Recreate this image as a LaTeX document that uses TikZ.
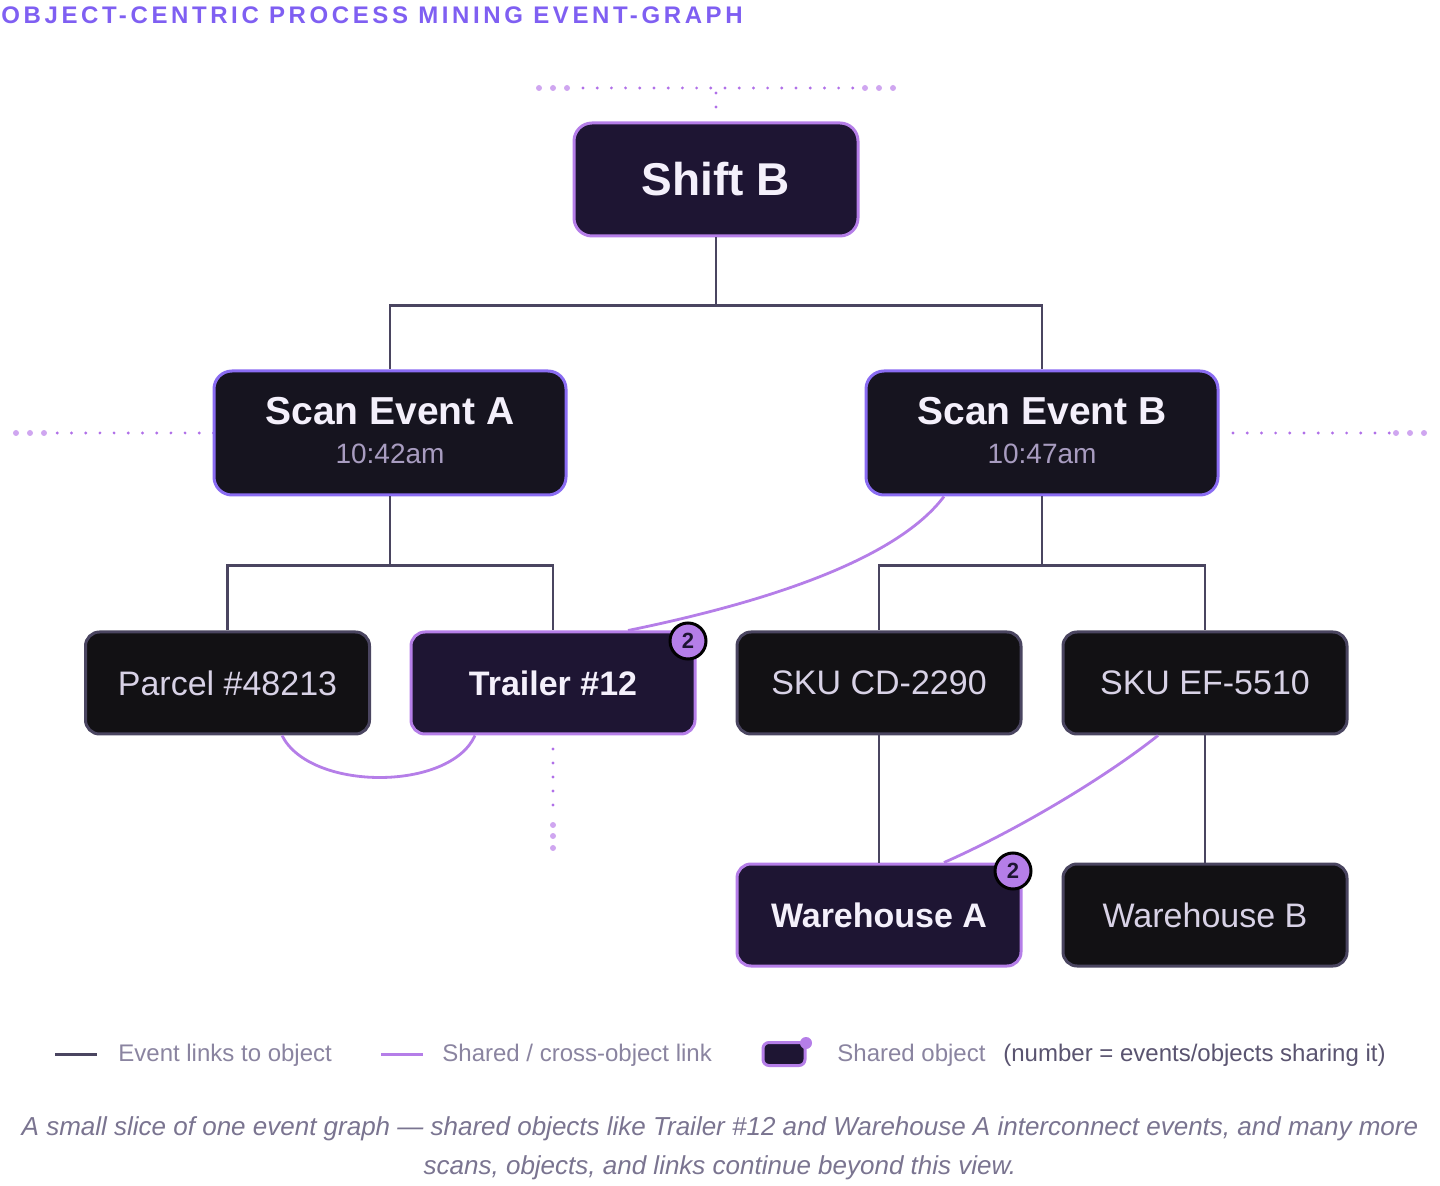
\documentclass[tikz,border=0pt]{standalone}
\usepackage{fontspec}
\setmainfont{Liberation Sans}
\newfontfamily\titlefam[LetterSpace=15]{Liberation Sans}
\usetikzlibrary{calc}
\definecolor{sharedfill}{HTML}{1E1533}
\definecolor{sharedborder}{HTML}{B57EE8}
\definecolor{eventfill}{HTML}{16141F}
\definecolor{eventborder}{HTML}{8A6CF2}
\definecolor{plainfill}{HTML}{121114}
\definecolor{plainborder}{HTML}{4A4560}
\definecolor{linkcol}{HTML}{4A4560}
\definecolor{textwhite}{HTML}{F4F0FB}
\definecolor{plaintext}{HTML}{D8D2E6}
\definecolor{timetext}{HTML}{A89CC0}
\definecolor{titlecol}{HTML}{7F5FF2}
\definecolor{legendtext}{HTML}{8A84A0}
\definecolor{legenddark}{HTML}{5A5470}
\definecolor{captioncol}{HTML}{7A7490}
\definecolor{dotsmall}{HTML}{B070E8}
\definecolor{dotbig}{HTML}{CFA6F0}
\definecolor{badgetext}{HTML}{1E1533}
\begin{document}
\begin{tikzpicture}[x=0.5pt,y=-0.5pt,
  box/.style={rounded corners=7pt, minimum width=142pt, minimum height=51pt, inner sep=0pt, line width=1.5pt},
  sharedbox/.style={box, fill=sharedfill, draw=sharedborder, text=textwhite, font=\fontsize{17}{20}\selectfont\bfseries},
  plainbox/.style={box, fill=plainfill, draw=plainborder, text=plaintext, font=\fontsize{17}{20}\selectfont},
  eventbox/.style={box, rounded corners=9pt, minimum width=176pt, minimum height=62pt, fill=eventfill, draw=eventborder},
  evtitle/.style={anchor=base, inner sep=0pt, text=textwhite, font=\fontsize{19.5}{23}\selectfont\bfseries},
  evtime/.style={anchor=base, inner sep=0pt, text=timetext, font=\fontsize{14}{17}\selectfont},
  link/.style={draw=linkcol, line width=1.2pt},
  sharedlink/.style={draw=sharedborder, line width=1.4pt},
  badge/.style={circle, fill=sharedborder, draw=black, line width=1.5pt, minimum size=18pt, inner sep=0pt, text=badgetext, font=\fontsize{11}{13}\selectfont\bfseries},
  legendlabel/.style={anchor=west, inner sep=0pt, text=legendtext, font=\fontsize{12}{14}\selectfont},
]
\useasboundingbox (0,0) rectangle (1440,1186);

% title
\node[anchor=base west, inner sep=0pt, text=titlecol, font=\titlefam\bfseries\fontsize{12}{14}\selectfont] (title) at (1,24) {OBJECT-CENTRIC PROCESS MINING EVENT-GRAPH};

% dotted continuation hints
\foreach \i in {0,...,19} \fill[dotsmall] ({583+\i*14.2},88) circle (0.8pt);
\foreach \x in {539,553,567,865,879,893} \fill[dotbig] (\x,88) circle (1.5pt);
\foreach \y in {93,107} \fill[dotsmall] (716,\y) circle (0.8pt);
\foreach \i in {0,...,11} \fill[dotsmall] ({57.3+\i*14.2},433) circle (0.8pt);
\foreach \x in {16,30,44} \fill[dotbig] (\x,433) circle (1.5pt);
\foreach \i in {0,...,11} \fill[dotsmall] ({1233+\i*14.2},433) circle (0.8pt);
\foreach \x in {1396,1410,1424} \fill[dotbig] (\x,433) circle (1.5pt);
\foreach \y in {749,763,777,791,805} \fill[dotsmall] (553,\y) circle (0.8pt);
\foreach \y in {825,836,848} \fill[dotbig] (553,\y) circle (1.5pt);

% nodes
\node[box, rounded corners=9pt, minimum width=142pt, minimum height=56.5pt, fill=sharedfill, draw=sharedborder, text=textwhite, font=\fontsize{23}{27}\selectfont\bfseries] (shift) at (716,179.5) {Shift B};

\node[eventbox] (sa) at (390,433) {};
\node[evtitle] (saT) at (390,425) {Scan Event A};
\node[evtime] (saTm) at (390,463.5) {10:42am};
\node[eventbox] (sb) at (1042,433) {};
\node[evtitle] (sbT) at (1042,425) {Scan Event B};
\node[evtime] (sbTm) at (1042,463.5) {10:47am};

\node[plainbox] (parcel) at (227.5,683) {Parcel \#48213};
\node[sharedbox] (trailer) at (553,683) {Trailer \#12};
\node[plainbox] (skucd) at (879,683) {SKU CD-2290};
\node[plainbox] (skuef) at (1205,683) {SKU EF-5510};
\node[sharedbox] (wha) at (879,915) {Warehouse A};
\node[plainbox] (whb) at (1205,915) {Warehouse B};

% event links
\draw[link] (shift.south) -- ++(0,68) -| (sa.north);
\draw[link] (shift.south) -- ++(0,68) -| (sb.north);
\draw[link] (sa.south) -- ++(0,69) -| (parcel.north);
\draw[link] (sa.south) -- ++(0,69) -| (trailer.north);
\draw[link] (sb.south) -- ++(0,69) -| (skucd.north);
\draw[link] (sb.south) -- ++(0,69) -| (skuef.north);
\draw[link] (skucd.south) -- (wha.north);
\draw[link] (skuef.south) -- (whb.north);

% shared links
\draw[sharedlink] ([xshift=-49pt]sb.south) .. controls +(-49,65) and +(132,-27) .. ([xshift=37.5pt]trailer.north);
\draw[sharedlink] ([xshift=27.25pt]parcel.south) .. controls +(28,56) and +(-25,56) .. ([xshift=-39pt]trailer.south);
\draw[sharedlink] ([xshift=-23.5pt]skuef.south) .. controls +(-58,46) and +(66,-29) .. ([xshift=32.5pt]wha.north);

% badges
\node[badge] (b1) at (688,641) {2};
\node[badge] (b2) at (1013,871) {2};

% legend
\draw[link, line width=1.5pt] (55,1054) -- (97,1054);
\node[legendlabel] (lg1) at (118,1055) {Event links to object};
\draw[sharedlink, line width=1.5pt] (381,1054) -- (423,1054);
\node[legendlabel] (lg2) at (442,1055) {Shared / cross-object link};
\node[rounded corners=3pt, fill=sharedfill, draw=sharedborder, line width=1.5pt, minimum width=21pt, minimum height=11.5pt, inner sep=0pt] (lgbox) at (784,1054) {};
\fill[sharedborder] (806,1043) circle (3pt);
\node[legendlabel] (lg3) at (837,1055) {Shared object};
\node[legendlabel, text=legenddark] (lg4) at (1003,1055) {(number = events/objects sharing it)};

% caption
\node[align=center, inner sep=0pt, text=captioncol, font=\fontsize{13}{19.5}\selectfont\itshape] (cap) at (720,1148) {A small slice of one event graph — shared objects like Trailer \#12 and Warehouse A interconnect events, and many more\\scans, objects, and links continue beyond this view.};
\end{tikzpicture}
\end{document}
